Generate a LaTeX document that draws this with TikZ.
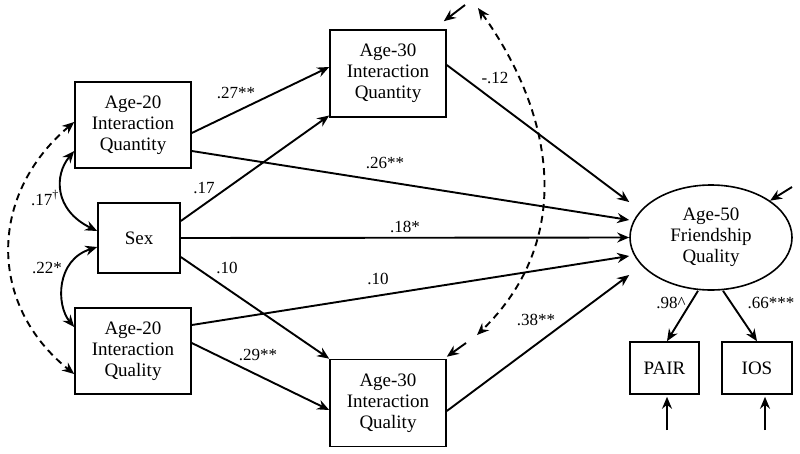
\documentclass[tikz,border=0pt]{standalone}
\usepackage{fontspec}
\setmainfont{Liberation Serif}
\usetikzlibrary{shapes,arrows.meta}

\begin{document}
\begin{tikzpicture}[x=1pt,y=-1pt,>={Stealth[length=12pt,width=10pt,inset=4pt]},
  box/.style={shape=rectangle,draw=black,align=center,line width=1.6pt,inner sep=0pt,minimum width=116pt,minimum height=86pt,font=\fontsize{19}{21}\selectfont},
  oval/.style={shape=ellipse,draw=black,align=center,line width=1.6pt,inner sep=0pt,minimum width=162pt,minimum height=105pt,font=\fontsize{19}{21}\selectfont},
  lbl/.style={inner sep=0pt,font=\fontsize{17}{19}\selectfont},
  arr/.style={->,draw=black,line width=1.9pt},
  cov/.style={<->,draw=black,line width=1.9pt}]
\useasboundingbox (0,0) rectangle (800,453);

\node[box] (0) at (133,125) {Age-20\\Interaction\\Quantity};
\node[box,minimum width=82pt,minimum height=70pt] (1) at (139,238) {Sex};
\node[box] (2) at (133,351) {Age-20\\Interaction\\Quality};
\node[box,minimum height=87pt] (3) at (388,73.5) {Age-30\\Interaction\\Quantity};
\node[box,minimum height=87pt] (4) at (388,403) {Age-30\\Interaction\\Quality};
\node[oval] (5) at (711,237.5) {Age-50\\Friendship\\Quality};
\node[box,minimum width=69pt,minimum height=52pt] (6) at (664.5,368) {PAIR};
\node[box,minimum width=70pt,minimum height=52pt] (7) at (757,368) {IOS};

\coordinate (r3) at (465,5);
\coordinate (r4) at (466,343);
\coordinate (r5) at (792,187);
\coordinate (r6) at (667,430);
\coordinate (r7) at (765,430);
\coordinate (d3) at (478,8);
\coordinate (d4) at (477,335);

% paths
\draw [arr] ([yshift=-8pt]0.east) -- ([yshift=6.5pt]3.west);
\draw [arr] ([yshift=17pt]1.east) -- ([yshift=-42pt]3.west);
\draw [arr] ([yshift=-26pt]0.east) -- ([yshift=17.5pt]5.west);
\draw [arr] ([yshift=8.5pt]3.east) -- ([yshift=35.5pt]5.west);
\draw [arr] (1.east) -- (5.west);
\draw [arr] ([yshift=26pt]2.east) -- ([yshift=-18.5pt]5.west);
\draw [arr] ([yshift=-8pt]4.east) -- ([yshift=-37.5pt]5.west);
\draw [arr] ([yshift=-19pt]1.east) -- (4.north west);
\draw [arr] ([yshift=8pt]2.east) -- ([yshift=-7pt]4.west);
\draw [arr] ([xshift=-13pt]5.south) -- ([xshift=2.5pt]6.north);
\draw [arr] ([xshift=12pt]5.south) -- (7.north);

% residuals
\draw [arr] (r3) -- ([shift={(-3pt,8pt)}]3.north east);
\draw [arr] (r4) -- ([yshift=2pt]4.north east);
\draw [arr] (r5) -- (5);
\draw [arr] (r6) -- ([xshift=2.5pt,yshift=-2pt]6.south);
\draw [arr] (r7) -- ([xshift=8pt,yshift=-2pt]7.south);

% covariances
\draw [cov] ([yshift=-26pt]0.west) .. controls (54,175) and (54,210) .. ([yshift=7pt]1.west);
\draw [cov] ([yshift=-9pt]1.west) .. controls (56,260) and (56,305) .. ([yshift=24pt]2.west);
\draw [cov,dash pattern=on 7pt off 5pt] ([yshift=3pt]0.west) .. controls (-12,195) and (-12,305) .. ([yshift=-23pt]2.west);
\draw [cov,dash pattern=on 7pt off 5pt] (d3) .. controls (555,115) and (575,240) .. (d4);

\node[lbl] (l0) at (236,93) {.27**};
\node[lbl] (l1) at (204,188) {.17};
\node[lbl] (l2) at (227,268) {.10};
\node[lbl] (l3) at (258,355) {.29**};
\node[lbl] (l4) at (385,163) {.26**};
\node[lbl] (l5) at (405,227) {.18*};
\node[lbl] (l6) at (378,279) {.10};
\node[lbl] (l7) at (495,78) {-.12};
\node[lbl] (l8) at (536,320) {.38**};
\node[lbl] (l9) at (671,303) {.98\textasciicircum};
\node[lbl] (l10) at (771,303) {.66***};
\node[lbl] (l11) at (45,198) {.17\textsuperscript{\textdagger}};
\node[lbl] (l12) at (47,268) {.22*};
\end{tikzpicture}
\end{document}
